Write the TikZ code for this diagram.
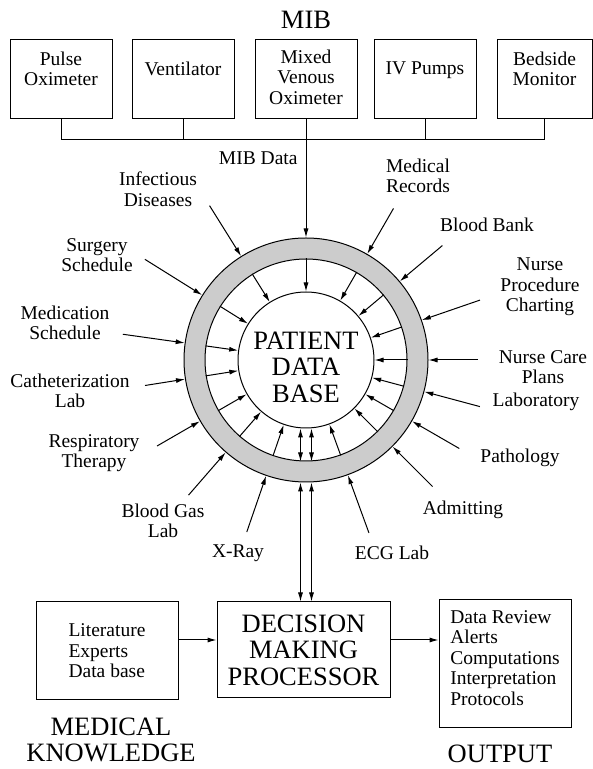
\documentclass[tikz,border=0pt]{standalone}
\usepackage{fontspec}
\setmainfont{Liberation Serif}
\usetikzlibrary{arrows.meta}

\begin{document}
\begin{tikzpicture}[x=1pt,y=1pt,line width=1pt,
    >={Latex[length=9pt,width=5pt]},
    src/.style={font=\fontsize{19.5}{20.5}\selectfont,align=center,inner sep=0pt},
    bigtxt/.style={font=\fontsize{26.5}{26.5}\selectfont,align=center,inner sep=0pt},
    mibbox/.style={draw,src,minimum width=102pt,minimum height=79pt,text depth=22pt},
    ring/.style={circle,draw,inner sep=0pt}]
    \useasboundingbox (0,0) rectangle (593,769);
    % MIB devices
    \node[bigtxt] (mib) at (306,749) {MIB};
    \node[mibbox] (pulse) at (61,689.5) {Pulse\\Oximeter};
    \node[mibbox] (vent) at (183,689.5) {Ventilator};
    \node[mibbox,text depth=5pt] (mixed) at (306,689.5) {Mixed\\Venous\\Oximeter};
    \node[mibbox] (pumps) at (425,689.5) {IV Pumps};
    \node[mibbox,minimum width=95pt] (monitor) at (544.5,689.5) {Bedside\\Monitor};
    \draw (pulse.south) -- ++(0,-20) coordinate (busL) -| (monitor.south);
    \draw (vent.south) -- (vent.south |- busL);
    \draw (pumps.south) -- (pumps.south |- busL);
    % patient data base
    \node[ring,fill=gray!40,minimum size=244pt] (outer) at (306,409) {};
    \node[ring,fill=white,minimum size=202pt] (band) at (306,409) {};
    \node[ring,minimum size=136pt] (pdb) at (306,409) {};
    \node[bigtxt] (pdbtxt) at (306,402) {PATIENT\\DATA\\BASE};
    \draw[->] (mixed.south) -- (outer);
    \node[src,anchor=east] (mibdata) at (298,611) {MIB Data};
    % sources
    \node[src] (infect) at (158,580) {Infectious\\Diseases};
    \node[src] (surgery) at (97,514) {Surgery\\Schedule};
    \node[src] (medsched) at (65,446) {Medication\\Schedule};
    \node[src] (cath) at (70,378) {Catheterization\\Lab};
    \node[src] (resp) at (94,316) {Respiratory\\Therapy};
    \node[src] (bgas) at (163,248) {Blood Gas\\Lab};
    \node[src] (xray) at (238,216) {X-Ray};
    \node[src] (ecg) at (392,216) {ECG Lab};
    \node[src] (admit) at (463,259) {Admitting};
    \node[src] (patho) at (520,311) {Pathology};
    \node[src] (lab) at (536,367) {Laboratory};
    \node[src] (ncare) at (543,402) {Nurse Care\\Plans};
    \node[src] (nproc) at (540,482) {Nurse\\Procedure\\Charting};
    \node[src] (bbank) at (487,544) {Blood Bank};
    \node[src] (medrec) at (418,593) {Medical\\Records};
    \foreach \a/\r in {122/182,148/190,172/185,189/163,210/172,229/179,251/182,290/184,
                       315/179,330/177,345/180,0/172,19/184,40/178,60/175}
      \draw[->] ([shift={(\a:\r)}]outer.center) -- (outer.\a);
    \foreach \a in {90,122,148,172,189,210,229,251,290,315,330,345,0,19,40,60}
      \draw[->] (band.\a) -- (pdb.\a);
    % decision making
    \node[draw,src,align=left,minimum width=142pt,minimum height=98pt] (know) at (107,118) {Literature\\Experts\\Data base};
    \node[draw,bigtxt,minimum width=173pt,minimum height=96pt] (dmp) at (303.5,119) {DECISION\\MAKING\\PROCESSOR};
    \node[draw,src,align=left,minimum width=132pt,minimum height=128pt,text depth=12pt] (out) at (505,105) {Data Review\\Alerts\\Computations\\Interpretation\\Protocols};
    \draw[<->] ([xshift=-5.5pt]pdb.south) -- ([xshift=-5.5pt]band.south);
    \draw[<->] ([xshift=5.5pt]pdb.south) -- ([xshift=5.5pt]band.south);
    \draw[<->] ([xshift=-5.5pt]outer.south) -- ([xshift=-5.5pt]outer.south |- dmp.north);
    \draw[<->] ([xshift=5.5pt]outer.south) -- ([xshift=5.5pt]outer.south |- dmp.north);
    \draw[->] ([yshift=11pt]know.east) -- ([yshift=11pt]know.east -| dmp.west);
    \draw[->] ([yshift=10pt]dmp.east) -- ([yshift=10pt]dmp.east -| out.west);
    \node[bigtxt] (medknow) at (111,29) {MEDICAL\\KNOWLEDGE};
    \node[bigtxt] (output) at (500,15.5) {OUTPUT};
\end{tikzpicture}
\end{document}
